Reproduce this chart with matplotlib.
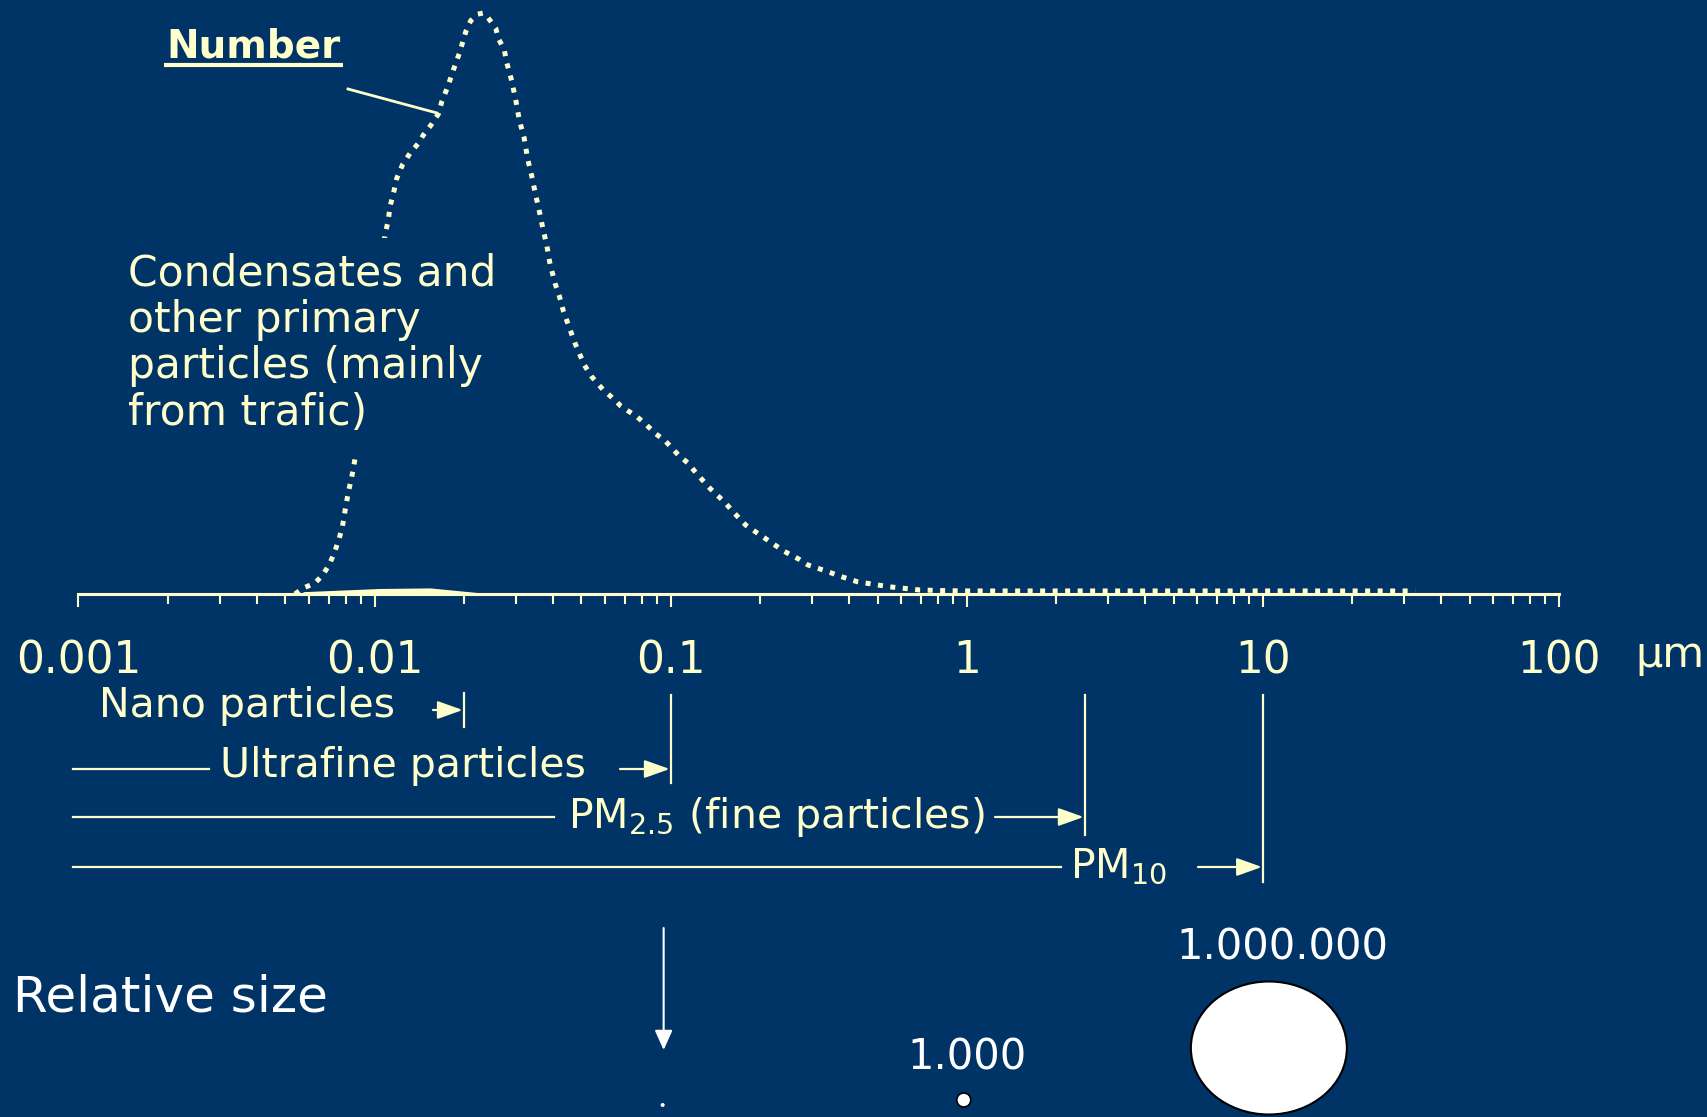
import numpy as np
import matplotlib
matplotlib.use("Agg")
import matplotlib.pyplot as plt
from matplotlib.patches import Rectangle, Ellipse
from matplotlib.ticker import FixedLocator, NullFormatter

plt.rcParams['font.family'] = ['DejaVu Sans']
plt.rcParams['mathtext.fontset'] = 'dejavusans'

bg = '#003366'
cream = '#FFFFCC'

# number size distribution (diameter in um, relative number)
diameter = [0.00539, 0.00572, 0.00628, 0.00669, 0.00705, 0.00734, 0.0076, 0.00779, 0.00796, 0.00815, 0.00838, 0.00862,
            0.01085, 0.01113, 0.01128, 0.01164, 0.01189, 0.01245, 0.01318, 0.01406, 0.01462, 0.01552, 0.01643, 0.01687,
            0.01767, 0.01846, 0.01934, 0.02037, 0.02113, 0.0223, 0.02325, 0.02404, 0.02567, 0.02618, 0.02744, 0.02796,
            0.02907, 0.03006, 0.03083, 0.03198, 0.03292, 0.03396, 0.03511, 0.03586, 0.03698, 0.03815, 0.03915, 0.0407,
            0.04199, 0.04342, 0.04549, 0.04755, 0.04879, 0.05112, 0.05414, 0.05898, 0.06441, 0.06785, 0.07684, 0.08133,
            0.08927, 0.09574, 0.1062, 0.114, 0.1222, 0.1357, 0.1516, 0.1643, 0.1791, 0.1954, 0.2206, 0.2407, 0.2716,
            0.2911, 0.3403, 0.3713, 0.4265, 0.5439, 0.6934, 0.854, 1.05, 32.7]
number = [0.0, 0.0098, 0.0184, 0.0327, 0.0516, 0.0728, 0.0959, 0.1158, 0.1446, 0.1744, 0.2019, 0.2363,
          0.618, 0.6437, 0.6666, 0.6942, 0.7155, 0.7396, 0.7585, 0.7757, 0.79, 0.8072, 0.8262, 0.8473,
          0.8731, 0.9019, 0.9306, 0.969, 0.9868, 0.998, 1.0, 0.9936, 0.9737, 0.9565, 0.9363, 0.9145,
          0.883, 0.8473, 0.8158, 0.786, 0.7482, 0.7194, 0.6838, 0.6639, 0.6305, 0.6007, 0.568, 0.5348,
          0.5146, 0.4871, 0.4584, 0.4315, 0.4182, 0.3941, 0.374, 0.3523, 0.3351, 0.3236, 0.3052, 0.2948,
          0.2754, 0.2639, 0.2392, 0.226, 0.2077, 0.1819, 0.1589, 0.1389, 0.1188, 0.1055, 0.0873, 0.074, 0.0597,
          0.0499, 0.0384, 0.031, 0.0212, 0.0126, 0.0069, 0.0057, 0.0052, 0.0052]

# faint mass sliver lying on the axis
mass_diameter = [0.00573, 0.0104, 0.0154, 0.0239]
mass = [0.004, 0.0095, 0.0105, 0.001]

decades = [0.001, 0.01, 0.1, 1, 10, 100]
decade_labels = ['0.001', '0.01', '0.1', '1', '10', '100']

class_names = ['Nano particles', 'Ultrafine particles', 'PM$_{2.5}$ (fine particles)', 'PM$_{10}$']
class_limits = [0.02, 0.1, 2.5, 10]

condensate_lines = ['Condensates and', 'other primary', 'particles (mainly', 'from trafic)']

relative_diameters = [0.1, 1, 10]
relative_labels = ['', '1.000', '1.000.000']

W, H = 1707, 1117
X0, X1 = 78.4, 1559.0      # pixel columns of 0.001 and 100 um
Y_AXIS, Y_TOP = 594, 13

fig = plt.figure(figsize=(W / 100, H / 100), dpi=100, facecolor=bg)

lo, hi = np.log10(decades[0]), np.log10(decades[-1])
dec = (X1 - X0) / (hi - lo)
xmin = 10 ** (lo - X0 / dec)
xmax = 10 ** (hi + (W - X1) / dec)

# distribution axes
axc = fig.add_axes([0, (H - Y_AXIS) / H, 1, (Y_AXIS - Y_TOP) / H])
axc.set_facecolor('none')
axc.set_xscale('log')
axc.set_xlim(xmin, xmax)
axc.set_ylim(0, 1)
for s in ['top', 'right', 'left']:
    axc.spines[s].set_visible(False)
axc.spines['bottom'].set_color(cream)
axc.spines['bottom'].set_linewidth(2.2)
axc.spines['bottom'].set_bounds(decades[0], decades[-1])
axc.set_yticks([])
axc.set_xticks(decades)
axc.set_xticklabels(decade_labels)
minor = [m * 10.0 ** e for e in range(-3, 2) for m in range(2, 10)]
axc.xaxis.set_minor_locator(FixedLocator(minor))
axc.xaxis.set_minor_formatter(NullFormatter())
axc.tick_params(axis='x', which='major', direction='out', length=9.5, width=1.5,
                color=cream, labelcolor=cream, labelsize=31.5, pad=23)
axc.tick_params(axis='x', which='minor', direction='out', length=7, width=1.5, color=cream)

axc.fill_between(mass_diameter, 0, mass, color=cream, lw=0, clip_on=False, zorder=3)
axc.plot(diameter, number, color=cream, lw=3.6, linestyle=(0, (1.0, 1.5)),
         dash_capstyle='butt', clip_on=False, zorder=3)


def xpix(v):
    return axc.transData.transform((v, 0.5))[0]


# annotation layer in pixel units (y down)
axa = fig.add_axes([0, 0, 1, 1])
axa.set_xlim(0, W)
axa.set_ylim(H, 0)
axa.axis('off')

axa.add_patch(Rectangle((120, 238), 385, 215, facecolor=bg, edgecolor='none'))
for i, line in enumerate(condensate_lines):
    axa.text(128, 285 + i * 46.7, line, color=cream, fontsize=30.5, va='baseline')

t_num = axa.text(166, 57, 'Number', color=cream, fontsize=28, fontweight='bold', va='baseline')
axa.plot([348, 437], [89, 113], color=cream, lw=2)

fig.canvas.draw()
bb = t_num.get_window_extent()
inv = axa.transData.inverted()
ux0 = inv.transform((bb.x0, 0))[0]
ux1 = inv.transform((bb.x1, 0))[0]
axa.plot([ux0 - 2, ux1 + 3], [64.5, 64.5], color=cream, lw=3, solid_capstyle='butt')

axa.text(1635, 667, 'µm', color=cream, fontsize=31, va='baseline')

# size class ranges
text_x = [99, 220, 568, 1070]
text_base = [717, 777, 828, 877]
line_y = [710, 769, 817, 867]
line_end = [None, 209, 554, 1061]
arrow_tail = [433, 620, 995, 1198]
bar_bottom = [727, 783, 835, 882]
bar_top = [693, 695, 695, 695]

for i, name in enumerate(class_names):
    xl = xpix(class_limits[i])
    axa.text(text_x[i], text_base[i], name, color=cream, fontsize=29.5, va='baseline')
    if line_end[i] is not None:
        axa.plot([73, line_end[i]], [line_y[i], line_y[i]], color=cream, lw=1.6)
    axa.annotate('', xy=(xl - 1, line_y[i]), xytext=(arrow_tail[i], line_y[i]),
                 arrowprops=dict(arrowstyle='-|>,head_length=1.4,head_width=0.5', mutation_scale=11,
                                 color=cream, lw=1.6, shrinkA=0, shrinkB=0))
    axa.plot([xl, xl], [bar_top[i], bar_bottom[i]], color=cream, lw=1.6)

# relative size
axa.text(13, 1012, 'Relative size', color='white', fontsize=36, va='baseline')
axa.annotate('', xy=(xpix(relative_diameters[0]) - 7, 1050), xytext=(xpix(relative_diameters[0]) - 7, 928),
             arrowprops=dict(arrowstyle='-|>,head_length=1.0,head_width=0.45', mutation_scale=12,
                             color='white', lw=1.5, shrinkA=0, shrinkB=0))
axa.add_patch(Ellipse((xpix(relative_diameters[0]) - 8, 1105), 4, 4, facecolor='white', edgecolor='none'))
axa.add_patch(Ellipse((xpix(relative_diameters[1]) - 3, 1100), 14, 14, facecolor='white',
                      edgecolor='black', lw=1.2))
axa.add_patch(Ellipse((xpix(relative_diameters[2]) + 6, 1048), 156, 133, facecolor='white',
                      edgecolor='black', lw=1.5, clip_on=False))
axa.text(xpix(relative_diameters[1]), 1070, relative_labels[1], color='white', fontsize=30,
         ha='center', va='baseline')
axa.text(xpix(relative_diameters[2]) + 20, 960, relative_labels[2], color='white', fontsize=30,
         ha='center', va='baseline')

fig.savefig('out.png', dpi=100, facecolor=bg)
